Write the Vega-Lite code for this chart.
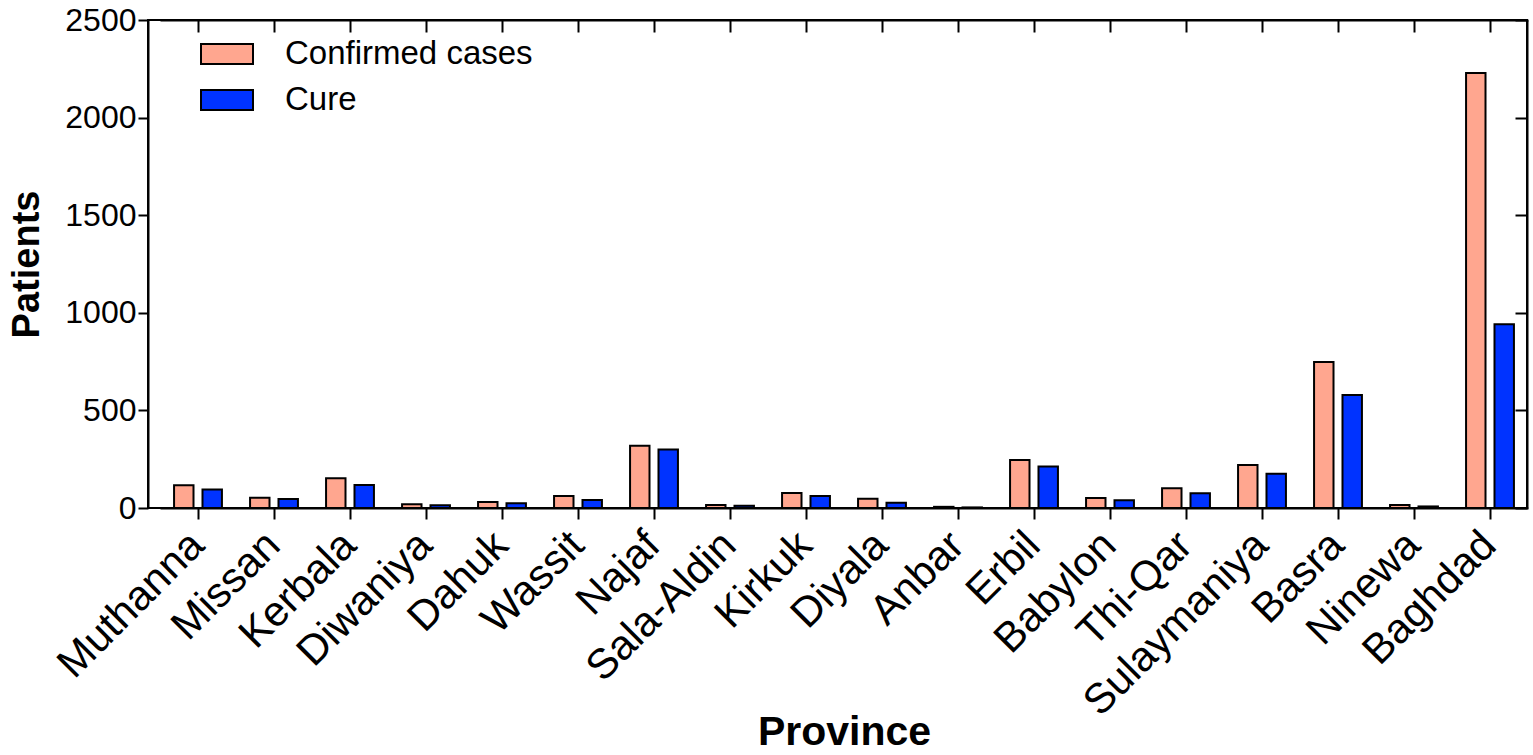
{
  "$schema": "https://vega.github.io/schema/vega-lite/v6.json",
  "autosize": "none",
  "width": 1379,
  "height": 488,
  "padding": {"left": 148, "top": 20, "right": 6, "bottom": 247},
  "background": "white",
  "config": {
    "font": "Liberation Sans",
    "view": {"stroke": "black", "strokeWidth": 2},
    "axis": {
      "domainColor": "black", "domainWidth": 2, "tickColor": "black", "tickWidth": 2,
      "labelColor": "black", "titleColor": "black", "grid": false,
      "labelFont": "Liberation Sans", "titleFont": "Liberation Sans"
    }
  },
  "data": {
    "values": [
      {"province": "Muthanna", "series": "Confirmed cases", "value": 117},
      {"province": "Muthanna", "series": "Cure", "value": 95},
      {"province": "Missan", "series": "Confirmed cases", "value": 53},
      {"province": "Missan", "series": "Cure", "value": 46},
      {"province": "Kerbala", "series": "Confirmed cases", "value": 152},
      {"province": "Kerbala", "series": "Cure", "value": 118},
      {"province": "Diwaniya", "series": "Confirmed cases", "value": 19},
      {"province": "Diwaniya", "series": "Cure", "value": 14},
      {"province": "Dahuk", "series": "Confirmed cases", "value": 31},
      {"province": "Dahuk", "series": "Cure", "value": 24},
      {"province": "Wassit", "series": "Confirmed cases", "value": 61},
      {"province": "Wassit", "series": "Cure", "value": 41},
      {"province": "Najaf", "series": "Confirmed cases", "value": 319},
      {"province": "Najaf", "series": "Cure", "value": 300},
      {"province": "Sala-Aldin", "series": "Confirmed cases", "value": 16},
      {"province": "Sala-Aldin", "series": "Cure", "value": 11},
      {"province": "Kirkuk", "series": "Confirmed cases", "value": 77},
      {"province": "Kirkuk", "series": "Cure", "value": 61},
      {"province": "Diyala", "series": "Confirmed cases", "value": 48},
      {"province": "Diyala", "series": "Cure", "value": 27},
      {"province": "Anbar", "series": "Confirmed cases", "value": 6},
      {"province": "Anbar", "series": "Cure", "value": 3},
      {"province": "Erbil", "series": "Confirmed cases", "value": 246},
      {"province": "Erbil", "series": "Cure", "value": 213},
      {"province": "Babylon", "series": "Confirmed cases", "value": 51},
      {"province": "Babylon", "series": "Cure", "value": 40},
      {"province": "Thi-Qar", "series": "Confirmed cases", "value": 101},
      {"province": "Thi-Qar", "series": "Cure", "value": 75},
      {"province": "Sulaymaniya", "series": "Confirmed cases", "value": 220},
      {"province": "Sulaymaniya", "series": "Cure", "value": 176},
      {"province": "Basra", "series": "Confirmed cases", "value": 748},
      {"province": "Basra", "series": "Cure", "value": 579},
      {"province": "Ninewa", "series": "Confirmed cases", "value": 16},
      {"province": "Ninewa", "series": "Cure", "value": 8},
      {"province": "Baghdad", "series": "Confirmed cases", "value": 2228},
      {"province": "Baghdad", "series": "Cure", "value": 941}
    ]
  },
  "layer": [
    {
      "mark": {"type": "bar", "stroke": "black", "strokeWidth": 2},
      "encoding": {
        "x": {
          "field": "province", "type": "nominal", "sort": null,
          "scale": {"range": [12, 1380], "paddingInner": 0.37, "paddingOuter": 0.185},
          "axis": {
            "orient": "bottom", "title": "Province", "titleFontSize": 41, "titleFontWeight": "bold",
            "labelFontSize": 42, "labelAngle": -45, "labelPadding": 5, "tickSize": 11,
            "labelOffset": -15, "titlePadding": 4, "labelLimit": 400
          }
        },
        "xOffset": {
          "field": "series", "type": "nominal", "sort": ["Confirmed cases", "Cure"],
          "scale": {"paddingInner": 0.316, "paddingOuter": 0}
        },
        "y": {
          "field": "value", "type": "quantitative",
          "scale": {"domain": [0, 2500], "nice": false, "zero": true},
          "axis": {
            "orient": "left", "title": "Patients", "titleFontSize": 38, "titleFontWeight": "bold",
            "labelFontSize": 32, "values": [0, 500, 1000, 1500, 2000, 2500], "tickSize": 10,
            "labelPadding": 2, "titlePadding": 18, "format": "d"
          }
        },
        "color": {
          "field": "series", "type": "nominal",
          "scale": {"domain": ["Confirmed cases", "Cure"], "range": ["#FFA68F", "#0033FF"]},
          "legend": {
            "orient": "none", "legendX": 52, "legendY": 7, "title": null,
            "symbolType": "M-1,-0.38H1V0.38H-1Z", "symbolSize": 2704,
            "symbolStrokeColor": "black", "symbolStrokeWidth": 2, "symbolOpacity": 1,
            "labelFontSize": 33, "labelColor": "black", "labelOffset": 31, "rowPadding": 2,
            "labelFont": "Liberation Sans", "labelLimit": 500
          }
        }
      }
    },
    {
      "mark": {"type": "point", "opacity": 0},
      "encoding": {
        "x": {
          "field": "province", "type": "nominal", "sort": null,
          "axis": {"orient": "top", "title": null, "labels": false, "tickSize": -12, "domain": true}
        },
        "y": {
          "field": "value", "type": "quantitative",
          "axis": {"orient": "right", "title": null, "labels": false, "tickSize": -12,
                   "values": [0, 500, 1000, 1500, 2000, 2500]}
        }
      }
    }
  ],
  "resolve": {"axis": {"x": "independent", "y": "independent"}}
}
